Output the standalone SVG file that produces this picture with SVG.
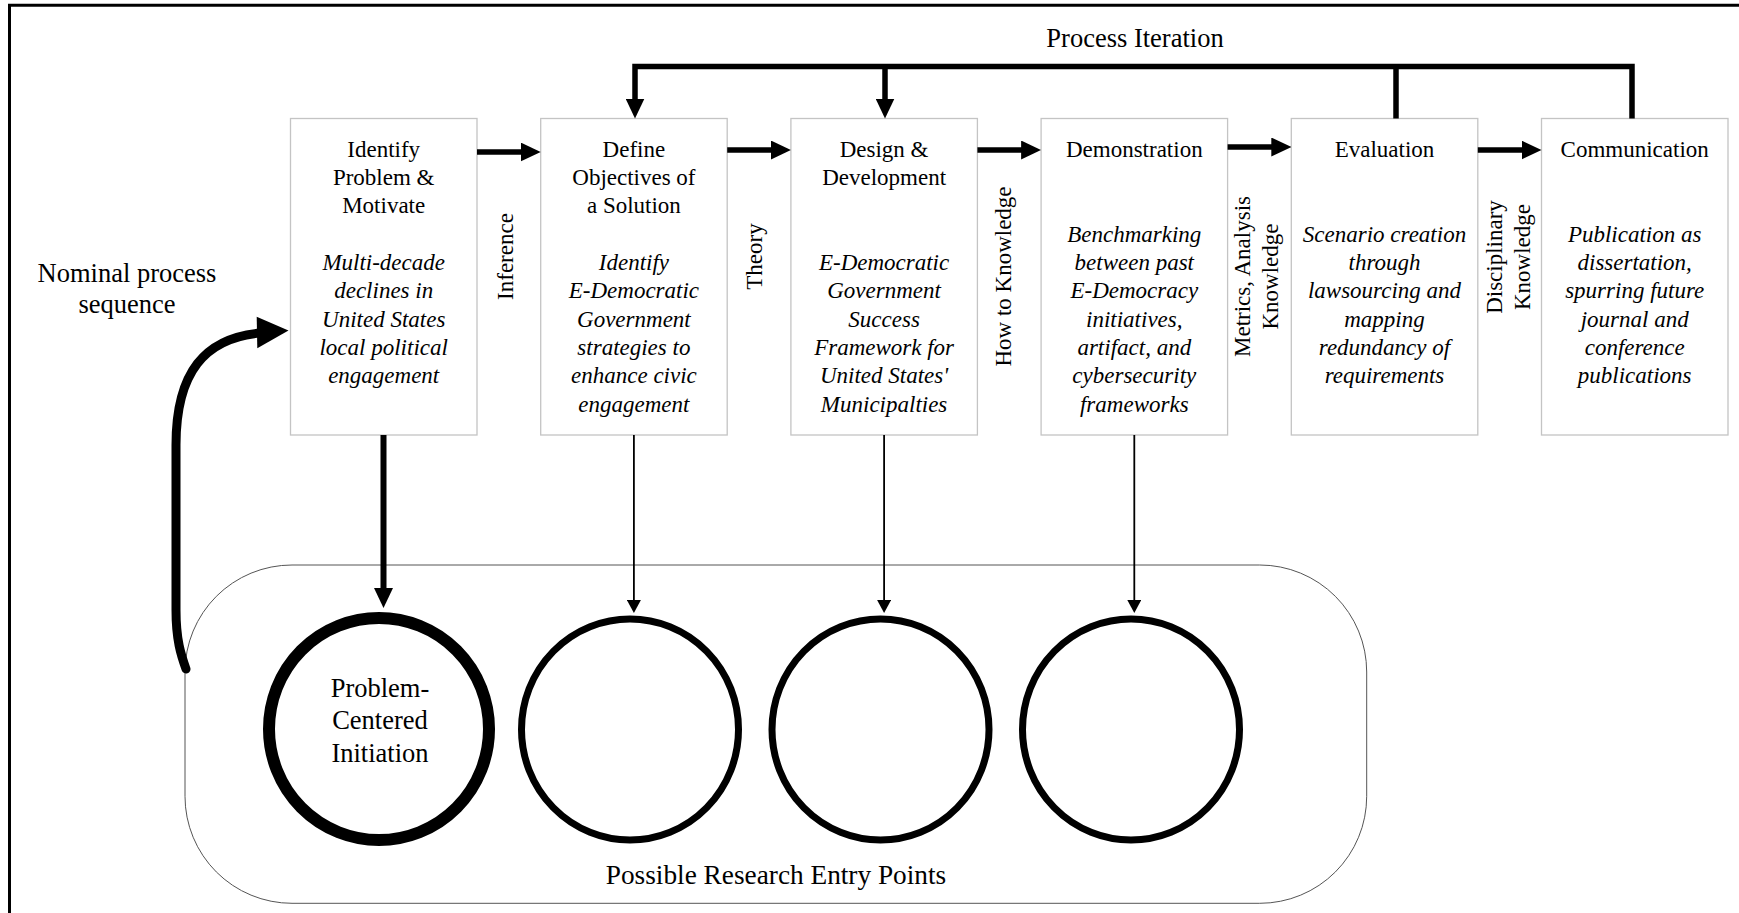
<svg xmlns="http://www.w3.org/2000/svg" width="1739" height="913" viewBox="0 0 1739 913">
<style>
  .t { font-family: "Liberation Serif", "Times New Roman", serif; font-size: 23px; fill: #000; text-anchor: middle; }
  .i { font-family: "Liberation Serif", "Times New Roman", serif; font-size: 23px; font-style: italic; fill: #000; text-anchor: middle; }
  .big { font-family: "Liberation Serif", "Times New Roman", serif; font-size: 26.5px; fill: #000; text-anchor: middle; }
  .box { fill: #fff; stroke: #c4c4c4; stroke-width: 1.3; }
  .thick { fill: none; stroke: #000; stroke-width: 5.5; }
  .thin { fill: none; stroke: #000; stroke-width: 1.8; }
  .ring { fill: #fff; stroke: #000; stroke-width: 7; }
</style>
<defs>
  <marker id="ah" markerUnits="userSpaceOnUse" markerWidth="20" markerHeight="19" viewBox="0 0 20 19" refX="10" refY="9.5" orient="auto"><path d="M0,0 L20,9.5 L0,19 z" fill="#000"/></marker>
  <marker id="ahs" markerUnits="userSpaceOnUse" markerWidth="13" markerHeight="14" viewBox="0 0 13 14" refX="6" refY="7" orient="auto"><path d="M0,0 L13,7 L0,14 z" fill="#000"/></marker>
</defs>
<rect x="0" y="0" width="1739" height="913" fill="#fff"/>
<path d="M9.5,913 V5.3 H1739" fill="none" stroke="#000" stroke-width="3"/>

<g id="container">
  <rect x="185" y="565" width="1181.7" height="338.3" rx="107" ry="107" fill="none" stroke="#555" stroke-width="1"/>
  <text class="big" x="776" y="884" style="font-size:27.3px">Possible Research Entry Points</text>
</g>

<g id="labels">
  <text class="big" x="127" y="281.5">Nominal process</text>
  <text class="big" x="127" y="312.5">sequence</text>
  <text class="big" x="1135" y="46.5">Process Iteration</text>
  <text class="t" transform="translate(513,256.5) rotate(-90)">Inference</text>
  <text class="t" transform="translate(762,256.5) rotate(-90)">Theory</text>
  <text class="t" transform="translate(1010.5,276.5) rotate(-90)">How to Knowledge</text>
  <text class="t" transform="translate(1250,276.5) rotate(-90)">Metrics, Analysis</text>
  <text class="t" transform="translate(1278,276.5) rotate(-90)">Knowledge</text>
  <text class="t" transform="translate(1502,257) rotate(-90)">Disciplinary</text>
  <text class="t" transform="translate(1530,257) rotate(-90)">Knowledge</text>
</g>

<g id="box1">
  <rect class="box" x="290.5" y="118.5" width="186.5" height="316.5"/>
  <text class="t" x="383.7" y="156.5">Identify</text>
  <text class="t" x="383.7" y="184.8">Problem &amp;</text>
  <text class="t" x="383.7" y="213">Motivate</text>
  <text class="i" x="383.7" y="270">Multi-decade</text>
  <text class="i" x="383.7" y="298.3">declines in</text>
  <text class="i" x="383.7" y="326.6">United States</text>
  <text class="i" x="383.7" y="355">local political</text>
  <text class="i" x="383.7" y="383.3">engagement</text>
</g>
<g id="box2">
  <rect class="box" x="540.7" y="118.5" width="186.5" height="316.5"/>
  <text class="t" x="633.9" y="156.5">Define</text>
  <text class="t" x="633.9" y="184.8">Objectives of</text>
  <text class="t" x="633.9" y="213">a Solution</text>
  <text class="i" x="633.9" y="270">Identify</text>
  <text class="i" x="633.9" y="298.3">E-Democratic</text>
  <text class="i" x="633.9" y="326.6">Government</text>
  <text class="i" x="633.9" y="355">strategies to</text>
  <text class="i" x="633.9" y="383.3">enhance civic</text>
  <text class="i" x="633.9" y="411.6">engagement</text>
</g>
<g id="box3">
  <rect class="box" x="790.9" y="118.5" width="186.5" height="316.5"/>
  <text class="t" x="884.1" y="156.5">Design &amp;</text>
  <text class="t" x="884.1" y="184.8">Development</text>
  <text class="i" x="884.1" y="270">E-Democratic</text>
  <text class="i" x="884.1" y="298.3">Government</text>
  <text class="i" x="884.1" y="326.6">Success</text>
  <text class="i" x="884.1" y="355">Framework for</text>
  <text class="i" x="884.1" y="383.3">United States'</text>
  <text class="i" x="884.1" y="411.6">Municipalties</text>
</g>
<g id="box4">
  <rect class="box" x="1041.1" y="118.5" width="186.5" height="316.5"/>
  <text class="t" x="1134.3" y="156.5">Demonstration</text>
  <text class="i" x="1134.3" y="241.5">Benchmarking</text>
  <text class="i" x="1134.3" y="270">between past</text>
  <text class="i" x="1134.3" y="298.3">E-Democracy</text>
  <text class="i" x="1134.3" y="326.6">initiatives,</text>
  <text class="i" x="1134.3" y="355">artifact, and</text>
  <text class="i" x="1134.3" y="383.3">cybersecurity</text>
  <text class="i" x="1134.3" y="411.6">frameworks</text>
</g>
<g id="box5">
  <rect class="box" x="1291.3" y="118.5" width="186.5" height="316.5"/>
  <text class="t" x="1384.5" y="156.5">Evaluation</text>
  <text class="i" x="1384.5" y="241.5">Scenario creation</text>
  <text class="i" x="1384.5" y="270">through</text>
  <text class="i" x="1384.5" y="298.3">lawsourcing and</text>
  <text class="i" x="1384.5" y="326.6">mapping</text>
  <text class="i" x="1384.5" y="355">redundancy of</text>
  <text class="i" x="1384.5" y="383.3">requirements</text>
</g>
<g id="box6">
  <rect class="box" x="1541.5" y="118.5" width="186.5" height="316.5"/>
  <text class="t" x="1634.7" y="156.5">Communication</text>
  <text class="i" x="1634.7" y="241.5">Publication as</text>
  <text class="i" x="1634.7" y="270">dissertation,</text>
  <text class="i" x="1634.7" y="298.3">spurring future</text>
  <text class="i" x="1634.7" y="326.6">journal and</text>
  <text class="i" x="1634.7" y="355">conference</text>
  <text class="i" x="1634.7" y="383.3">publications</text>
</g>

<g id="entry1">
  <ellipse cx="379" cy="729" rx="110" ry="111" fill="#fff" stroke="#000" stroke-width="12"/>
  <text class="big" x="380" y="696.5">Problem-</text>
  <text class="big" x="380" y="728.5">Centered</text>
  <text class="big" x="380" y="761.5">Initiation</text>
</g>
<g id="entry2"><ellipse class="ring" cx="630" cy="729.5" rx="108.5" ry="110.5"/></g>
<g id="entry3"><ellipse class="ring" cx="880.5" cy="729.5" rx="108.5" ry="110.5"/></g>
<g id="entry4"><ellipse class="ring" cx="1131" cy="729.5" rx="108.5" ry="110.5"/></g>

<g id="connectors">
  <line class="thick" x1="477" y1="152" x2="530.7" y2="152" marker-end="url(#ah)"/>
  <line class="thick" x1="727.2" y1="150" x2="780.9" y2="150" marker-end="url(#ah)"/>
  <line class="thick" x1="977.4" y1="150" x2="1031.1" y2="150" marker-end="url(#ah)"/>
  <line class="thick" x1="1227.6" y1="147" x2="1281.3" y2="147" marker-end="url(#ah)"/>
  <line class="thick" x1="1477.8" y1="150" x2="1531.5" y2="150" marker-end="url(#ah)"/>
  <path class="thick" d="M1632,118.5 V66.5 H635 V108.5" marker-end="url(#ah)"/>
  <path class="thick" d="M1396,118.5 V66.5"/>
  <path class="thick" d="M885,66.5 V108.5" marker-end="url(#ah)"/>
  <line x1="383.5" y1="435" x2="383.5" y2="598" stroke="#000" stroke-width="6" marker-end="url(#ah)"/>
  <line class="thin" x1="633.9" y1="435" x2="633.9" y2="606" marker-end="url(#ahs)"/>
  <line class="thin" x1="884.1" y1="435" x2="884.1" y2="606" marker-end="url(#ahs)"/>
  <line class="thin" x1="1134.3" y1="435" x2="1134.3" y2="606" marker-end="url(#ahs)"/>
  <path d="M186,669 C181,655 176,640 176,610 L176,445 C176,372 205,338 260,333" fill="none" stroke="#000" stroke-width="9" stroke-linecap="round"/>
  <polygon points="256.7,316.7 288.5,330.5 257.3,348.3" fill="#000"/>
</g>
</svg>
